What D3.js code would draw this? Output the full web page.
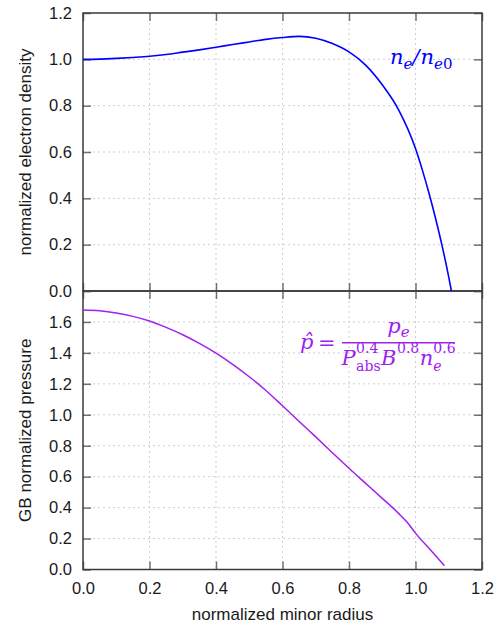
<!DOCTYPE html>
<html>
<head>
<meta charset="utf-8">
<script src="https://cdn.jsdelivr.net/npm/d3@7"></script>
<style>
  html, body { margin: 0; padding: 0; background: #fff; }
  svg { display: block; }
  .tick text { font-family: "Liberation Sans", Arial, sans-serif; font-size: 16.5px; fill: #1a1a1a; }
  .axis-title { font-family: "Liberation Sans", Arial, sans-serif; font-size: 17px; fill: #1a1a1a; }
  .math { font-family: "DejaVu Serif", serif; }
</style>
</head>
<body>
<script>
// radial positions (normalized minor radius) for the density profile
const radiusDensity = [0, 0.05, 0.1, 0.15, 0.2, 0.25, 0.3, 0.35, 0.4, 0.45, 0.5, 0.55, 0.6, 0.65,
  0.7, 0.75, 0.8, 0.85, 0.9, 0.95, 1.0, 1.02, 1.04, 1.06, 1.08, 1.1, 1.108];
// n_e / n_e0
const densityValues = [1.000, 1.001, 1.004, 1.008, 1.013, 1.021, 1.031, 1.041, 1.052, 1.064, 1.075,
  1.086, 1.094, 1.099, 1.091, 1.068, 1.032, 0.975, 0.890, 0.780, 0.615, 0.525, 0.425, 0.315, 0.195, 0.060, 0.0];

// radial positions for the gyro-Bohm normalized pressure
const radiusPressure = [0, 0.05, 0.1, 0.15, 0.2, 0.25, 0.3, 0.35, 0.4, 0.45, 0.5, 0.55, 0.6, 0.65,
  0.7, 0.75, 0.8, 0.85, 0.9, 0.95, 0.975, 1.0, 1.05, 1.087];
const pressureValues = [1.677, 1.672, 1.658, 1.636, 1.606, 1.565, 1.517, 1.461, 1.398, 1.326, 1.246,
  1.157, 1.058, 0.957, 0.857, 0.755, 0.654, 0.557, 0.460, 0.361, 0.305, 0.235, 0.115, 0.025];

const xTicks = [0, 0.2, 0.4, 0.6, 0.8, 1.0, 1.2];
const yTicksDensity = [0, 0.2, 0.4, 0.6, 0.8, 1.0, 1.2];
const yTicksPressure = [0, 0.2, 0.4, 0.6, 0.8, 1.0, 1.2, 1.4, 1.6, 1.8];

const W = 498, H = 626;
const left = 83, right = 482;
const topY = 13, midY = 291, botY = 569.5;
const tickLen = 8;
const blue = "#0000ff", purple = "#a020f0";
const frameColor = "#3a3a3a", tickColor = "#707070", gridColor = "#cfcfcf";

const svg = d3.select("body").append("svg").attr("width", W).attr("height", H);

const x = d3.scaleLinear().domain([0, 1.2]).range([left, right]);
const yTop = d3.scaleLinear().domain([0, 1.2]).range([midY, topY]);
const yBot = d3.scaleLinear().domain([0, 1.8]).range([botY, midY]);

const fmt = d3.format(".1f");

function panel(y, yTicks, yLabelTicks, showX) {
  const [y0, y1] = y.range();
  const g = svg.append("g");

  // dotted grid
  g.append("g").selectAll("line").data(xTicks.filter(t => t > 0 && t < 1.2)).join("line")
    .attr("x1", d => x(d)).attr("x2", d => x(d)).attr("y1", y1).attr("y2", y0)
    .attr("stroke", gridColor).attr("stroke-width", 1).attr("stroke-dasharray", "2,3");
  g.append("g").selectAll("line").data(yTicks.filter(t => t > 0 && t < y.domain()[1])).join("line")
    .attr("x1", left).attr("x2", right).attr("y1", d => y(d)).attr("y2", d => y(d))
    .attr("stroke", gridColor).attr("stroke-width", 1).attr("stroke-dasharray", "2,3");

  // inward ticks on all four sides
  const axL = d3.axisLeft(y).tickValues(yTicks).tickSizeInner(-tickLen).tickSizeOuter(0).tickPadding(11)
    .tickFormat(d => yLabelTicks.includes(d) ? fmt(d) : "");
  const axR = d3.axisRight(y).tickValues(yTicks).tickSizeInner(-tickLen).tickSizeOuter(0).tickFormat("");
  const axB = d3.axisBottom(x).tickValues(xTicks).tickSizeInner(-tickLen).tickSizeOuter(0).tickPadding(12.5)
    .tickFormat(showX ? fmt : "");
  const axT = d3.axisTop(x).tickValues(xTicks).tickSizeInner(-tickLen).tickSizeOuter(0).tickFormat("");

  const axes = [
    g.append("g").attr("transform", `translate(${left},0)`).call(axL),
    g.append("g").attr("transform", `translate(${right},0)`).call(axR),
    g.append("g").attr("transform", `translate(0,${y0})`).call(axB),
    g.append("g").attr("transform", `translate(0,${y1})`).call(axT)
  ];
  axes.forEach(a => {
    a.select(".domain").remove();
    a.selectAll(".tick line").attr("stroke", tickColor).attr("stroke-width", 1.5);
    a.attr("font-family", null).attr("font-size", null);
  });

  // frame
  g.append("rect").attr("x", left).attr("y", y1).attr("width", right - left).attr("height", y0 - y1)
    .attr("fill", "none").attr("stroke", frameColor).attr("stroke-width", 1.5);
  return g;
}

panel(yTop, yTicksDensity, yTicksDensity, false);
panel(yBot, yTicksPressure, yTicksPressure.filter(t => t < 1.7), true);

// profiles
const densityLine = d3.line().x((d, i) => x(radiusDensity[i])).y(d => yTop(d)).curve(d3.curveMonotoneX);
svg.append("path").datum(densityValues).attr("d", densityLine)
  .attr("fill", "none").attr("stroke", blue).attr("stroke-width", 1.6);

const pressureLine = d3.line().x((d, i) => x(radiusPressure[i])).y(d => yBot(d)).curve(d3.curveMonotoneX);
svg.append("path").datum(pressureValues).attr("d", pressureLine)
  .attr("fill", "none").attr("stroke", purple).attr("stroke-width", 1.5);

// axis titles
svg.append("text").attr("class", "axis-title")
  .attr("transform", `translate(31,${(topY + midY) / 2}) rotate(-90)`)
  .attr("text-anchor", "middle").text("normalized electron density");
svg.append("text").attr("class", "axis-title")
  .attr("transform", `translate(31,${(midY + botY) / 2}) rotate(-90)`)
  .attr("text-anchor", "middle").text("GB normalized pressure");
svg.append("text").attr("class", "axis-title")
  .attr("x", (left + right) / 2).attr("y", 620).attr("text-anchor", "middle").text("normalized minor radius");

// math annotations: a tiny run-based layout (main, sub and sup pieces)
function mathRun(parent, x0, base, pieces, color) {
  let cx = x0;
  const g = parent.append("g").attr("fill", color);
  const put = (s, at) => g.append("text").attr("class", "math").attr("x", at).attr("y", base + (s.dy || 0))
    .attr("font-size", s.size).attr("font-style", s.italic ? "italic" : "normal").text(s.t);
  pieces.forEach(p => {
    if (p.stack) {
      let w = 0;
      p.stack.forEach(s => { w = Math.max(w, put(s, cx).node().getComputedTextLength()); });
      cx += w + (p.gap || 0);
    } else {
      cx += put(p, cx).node().getComputedTextLength() + (p.gap || 0);
    }
  });
  return { g, width: cx - x0 };
}

// n_e / n_e0
mathRun(svg, 390, 64, [
  { t: "n", size: 21, italic: true },
  { t: "e", size: 15, italic: true, dy: 5 },
  { t: "/", size: 21, italic: true, gap: 1 },
  { t: "n", size: 21, italic: true },
  { t: "e", size: 15, italic: true, dy: 5 },
  { t: "0", size: 15, italic: false, dy: 5 }
], blue);

// p-hat = p_e / (P_abs^0.4 B^0.8 n_e^0.6)
const barY = 342.7, barX0 = 342, barX1 = 455;
const mg = svg.append("g");
mg.append("text").attr("class", "math").attr("x", 300).attr("y", 349).attr("font-size", 21)
  .attr("font-style", "italic").attr("fill", purple).text("p\u0302");
mg.append("text").attr("class", "math").attr("x", 318).attr("y", 350).attr("font-size", 21)
  .attr("fill", purple).text("=");
mg.append("line").attr("x1", barX0).attr("x2", barX1).attr("y1", barY).attr("y2", barY)
  .attr("stroke", purple).attr("stroke-width", 1.4);

const num = mathRun(mg, 0, 333, [
  { t: "p", size: 21, italic: true },
  { t: "e", size: 15, italic: true, dy: 4 }
], purple);
num.g.attr("transform", `translate(${(barX0 + barX1) / 2 - num.width / 2},0)`);

const den = mathRun(mg, 0, 365, [
  { t: "P", size: 21, italic: true, gap: 0.5 },
  { stack: [{ t: "0.4", size: 14, dy: -12 }, { t: "abs", size: 14, dy: 6 }], gap: 0.5 },
  { t: "B", size: 21, italic: true, gap: 0.5 },
  { t: "0.8", size: 14, dy: -12, gap: 0.5 },
  { t: "n", size: 21, italic: true },
  { stack: [{ t: "0.6", size: 14, dy: -12 }, { t: "e", size: 14, italic: true, dy: 6 }] }
], purple);
den.g.attr("transform", `translate(${(barX0 + barX1) / 2 - den.width / 2},0)`);
</script>
</body>
</html>
